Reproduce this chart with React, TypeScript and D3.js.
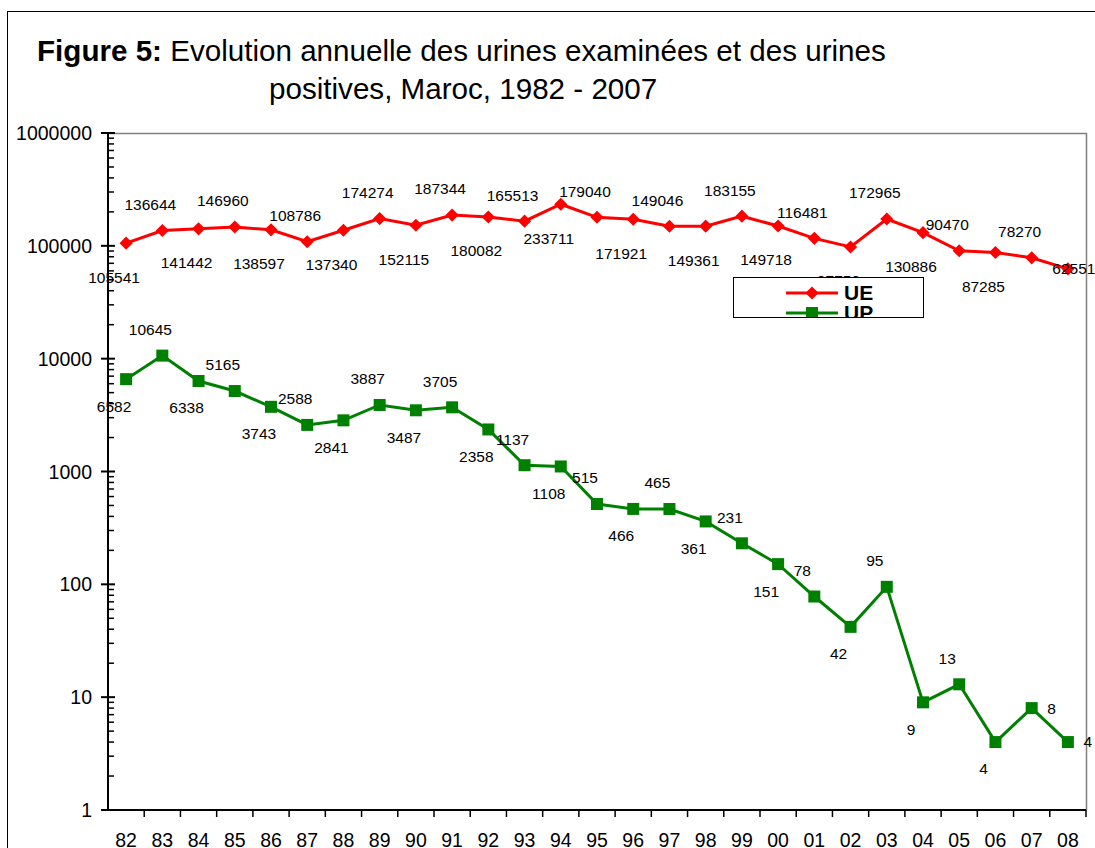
import React from "react";
import * as d3 from "d3";

const years = ["82","83","84","85","86","87","88","89","90","91","92","93","94","95","96","97","98","99","00","01","02","03","04","05","06","07","08"];
const ueValues = [105541,136644,141442,146960,138597,108786,137340,174274,152115,187344,180082,165513,233711,179040,171921,149046,149361,183155,149718,116481,97758,172965,130886,90470,87285,78270,62551];
const upValues = [6582,10645,6338,5165,3743,2588,2841,3887,3487,3705,2358,1137,1108,515,466,465,361,231,151,78,42,95,9,13,4,8,4];
const yTicks = [1,10,100,1000,10000,100000,1000000];
const seriesNames = ["UE","UP"];

const FONT = "'Liberation Sans', Arial, sans-serif";
const W = 1095, H = 848;
const plot = { left: 108, right: 1086, top: 133, bottom: 810 };

export default function App() {
  const x = d3.scaleBand<string>().domain(years).range([plot.left, plot.right]).padding(0);
  const y = d3.scaleLog().domain([1, 1e6]).range([plot.bottom, plot.top]);
  const cx = (i: number) => (x(years[i]) as number) + x.bandwidth() / 2;

  const line = d3.line<number>().x((_, i) => cx(i)).y((d) => y(d));

  const minorTicks: number[] = [];
  for (let e = 0; e < 6; e++) for (let m = 2; m <= 9; m++) minorTicks.push(m * Math.pow(10, e));

  const diamond = d3.symbol().type(d3.symbolDiamond2).size(110)();
  const ueRed = "#FF0000";
  const upGreen = "#008000";

  // label placement rule: alternate below/above; last points special
  const uePos = (i: number) => (i === ueValues.length - 1 ? "c" : i % 2 === 0 ? "b" : "a");
  const upPos = (i: number) => (i >= upValues.length - 2 ? "r" : i % 2 === 0 ? "b" : "a");

  const labelXY = (i: number, v: number, pos: string, below: number) => {
    const px = cx(i), py = y(v);
    if (pos === "a") return [px - 12, py - 26];
    if (pos === "b") return [px - 12, py + below];
    if (pos === "r") return [px + 20, py];
    return [px + 6, py];
  };

  return (
    <svg width={W} height={H} style={{ position: "absolute", left: 0, top: 0, background: "#fff" }} fontFamily={FONT}>
      <defs>
        <clipPath id="legclip"><rect x={733} y={277} width={190} height={40} /></clipPath>
      </defs>
      <rect x={0} y={0} width={W} height={H} fill="#fff" />
      {/* outer border */}
      <rect x={7.5} y={11.5} width={W + 20} height={H + 20} fill="none" stroke="#000" strokeWidth={1} />

      {/* title */}
      <text x={37} y={61} fontSize={29.6} fill="#000">
        <tspan fontWeight="bold">Figure 5:</tspan>
        <tspan> Evolution annuelle des urines examinées et des urines</tspan>
      </text>
      <text x={269} y={99} fontSize={29.6} fill="#000">positives, Maroc, 1982 - 2007</text>

      {/* plot frame (top/right) */}
      <path d={`M${plot.left},${plot.top + 0.5}H${plot.right + 0.5}V${plot.bottom}`} fill="none" stroke="#808080" strokeWidth={1.5} />

      {/* y axis */}
      <line x1={plot.left} x2={plot.left} y1={plot.top} y2={plot.bottom} stroke="#000" strokeWidth={2} />
      {minorTicks.map((t) => (
        <line key={"m" + t} x1={plot.left} x2={plot.left + 6} y1={y(t)} y2={y(t)} stroke="#000" strokeWidth={1.5} />
      ))}
      {yTicks.map((t) => (
        <g key={"y" + t}>
          <line x1={plot.left - 7} x2={plot.left + 7} y1={y(t)} y2={y(t)} stroke="#000" strokeWidth={2} />
          <text x={92} y={y(t)} dy="0.36em" textAnchor="end" fontSize={19.5} fill="#000">{t}</text>
        </g>
      ))}

      {/* x axis */}
      <line x1={plot.left} x2={plot.right} y1={plot.bottom} y2={plot.bottom} stroke="#000" strokeWidth={2} />
      {years.map((yr, i) => (
        <g key={"x" + yr}>
          <line x1={(x(yr) as number) + x.bandwidth()} x2={(x(yr) as number) + x.bandwidth()} y1={plot.bottom} y2={plot.bottom + 7} stroke="#000" strokeWidth={1.5} />
          <text x={cx(i)} y={847} textAnchor="middle" fontSize={19.5} fill="#000">{yr}</text>
        </g>
      ))}

      {/* lines */}
      <path d={line(ueValues) || ""} fill="none" stroke={ueRed} strokeWidth={3} />
      <path d={line(upValues) || ""} fill="none" stroke={upGreen} strokeWidth={3} />

      {/* markers */}
      {ueValues.map((v, i) => (
        <path key={"ue" + i} d={diamond || ""} transform={`translate(${cx(i)},${y(v)})`} fill={ueRed} />
      ))}
      {upValues.map((v, i) => (
        <rect key={"up" + i} x={cx(i) - 6} y={y(v) - 6} width={12} height={12} fill={upGreen} />
      ))}

      {/* data labels */}
      {ueValues.map((v, i) => {
        const [lx, ly] = labelXY(i, v, uePos(i), 34);
        return <text key={"uel" + i} x={lx} y={ly} dy="0.35em" textAnchor="middle" fontSize={15.5} fill="#000">{v}</text>;
      })}
      {upValues.map((v, i) => {
        const [lx, ly] = labelXY(i, v, upPos(i), 27);
        return <text key={"upl" + i} x={lx} y={ly} dy="0.35em" textAnchor="middle" fontSize={15.5} fill="#000">{v}</text>;
      })}

      {/* legend */}
      <g>
        <rect x={733.5} y={277.5} width={190} height={40} fill="#fff" stroke="#000" strokeWidth={1} />
        <g clipPath="url(#legclip)">
          <line x1={786} x2={838} y1={293} y2={293} stroke={ueRed} strokeWidth={3} />
          <path d={diamond || ""} transform="translate(812,293)" fill={ueRed} />
          <text x={844} y={299.5} fontSize={21} fontWeight="bold" fill="#000">{seriesNames[0]}</text>
          <line x1={786} x2={838} y1={313} y2={313} stroke={upGreen} strokeWidth={3} />
          <rect x={806} y={307} width={12} height={12} fill={upGreen} />
          <text x={844} y={319.5} fontSize={21} fontWeight="bold" fill="#000">{seriesNames[1]}</text>
        </g>
      </g>
    </svg>
  );
}
